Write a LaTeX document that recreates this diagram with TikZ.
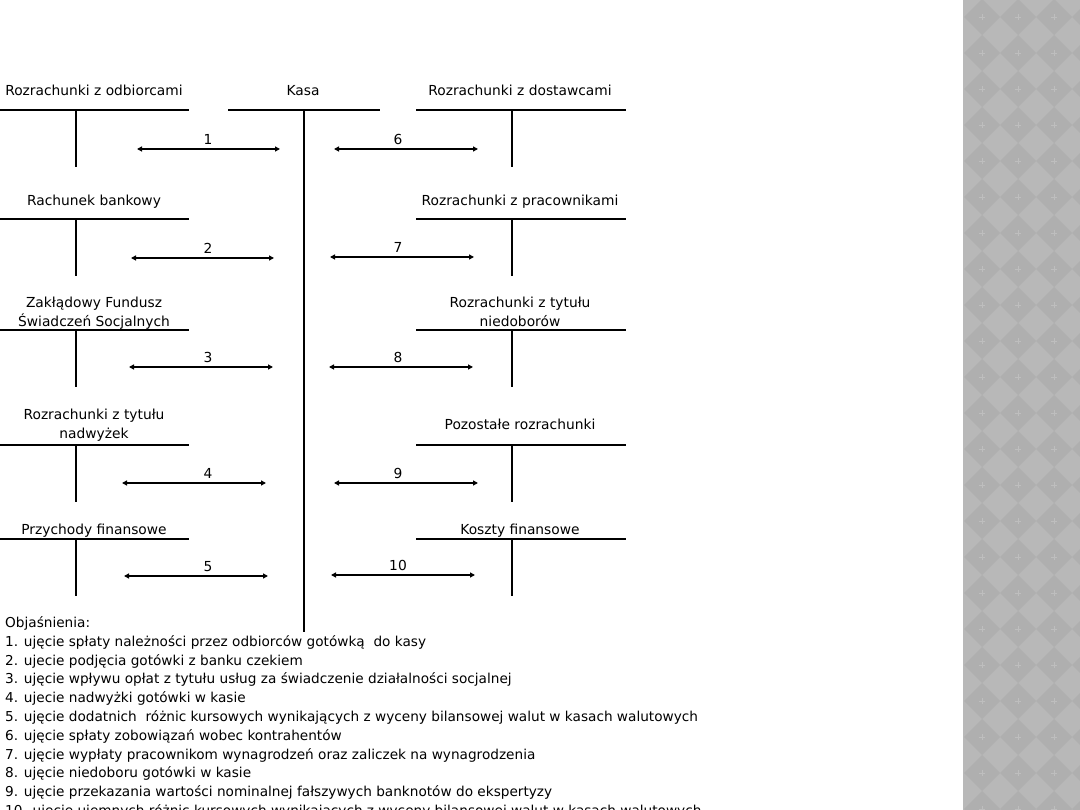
\documentclass[tikz,border=0pt]{standalone}
\usepackage{fontspec}
\setmainfont{DejaVu Sans}
\usetikzlibrary{arrows.meta}
\definecolor{stripgray}{HTML}{B8B8B8}
\definecolor{diamgray}{HTML}{AFAFAF}
\definecolor{plusgray}{HTML}{BEBEBE}

\begin{document}
\begin{tikzpicture}[x=1pt,y=-1pt,
    tline/.style={line width=2pt},
    flow/.style={line width=1.2pt,{Triangle[length=5pt,width=5pt]}-{Triangle[length=5pt,width=5pt]}},
    title/.style={font=\fontsize{13.8}{19}\selectfont,align=center,inner sep=0pt},
    num/.style={font=\fontsize{13.8}{16}\selectfont,inner sep=0pt},
    note/.style={font=\fontsize{13.65}{16}\selectfont,anchor=base west,inner sep=0pt}]
    \useasboundingbox (0,0) rectangle (1080,810);
    % gray strip on the right
    \fill[stripgray] (963,0) rectangle (1080,810);
    \begin{scope}
        \clip (963,0) rectangle (1080,810);
        \foreach \i in {0,...,3} {
            \foreach \j in {0,...,22} {
                \fill[diamgray] (982+36*\i,-1+36*\j) -- ++(18,18) -- ++(-18,18) -- ++(-18,-18) -- cycle;
                \draw[plusgray, line width=0.6pt] (979+36*\i,17+36*\j) -- ++(6,0) (982+36*\i,14+36*\j) -- ++(0,6);
            }
        }
    \end{scope}
    % T accounts
    \foreach \y in {110,219,330,445,539} {
        \draw[tline] (0,\y) -- (189,\y) (76,\y) -- (76,\y+57);
        \draw[tline] (416,\y) -- (626,\y) (512,\y) -- (512,\y+57);
    }
    \draw[tline] (228,110) -- (380,110) (304,110) -- (304,632);
    \node[title] (kasa) at (303,91) {Kasa};
    \foreach \n/\x/\y/\t in {odb/94/90.5/Rozrachunki z odbiorcami,
                             bank/94/202/Rachunek bankowy,
                             zfss/94/313.5/Zakłądowy Fundusz\\Świadczeń Socjalnych,
                             nadw/94/425.5/Rozrachunki z tytułu\\nadwyżek,
                             przych/94/531/Przychody finansowe,
                             dost/520/90.5/Rozrachunki z dostawcami,
                             prac/520/202/Rozrachunki z pracownikami,
                             nied/520/311.5/Rozrachunki z tytułu\\niedoborów,
                             poz/520/424.5/Pozostałe rozrachunki,
                             koszt/520/531/Koszty finansowe} {
        \node[title] (\n) at (\x,\y) {\t};
    }
    % arrows with numbers
    \foreach \n/\xa/\xb/\y/\xl in {1/137/280/149/208, 2/131/274/258/208, 3/129/273/367/208,
                                   4/122/266/483/208, 5/124/268/576/208, 6/334/478/149/398,
                                   7/330/474/257/398, 8/329/473/367/398, 9/334/478/483/398,
                                   10/331/475/575/398} {
        \coordinate (p\n) at (\xa,\y);
        \coordinate (q\n) at (\xb,\y);
        \draw[flow] (p\n) -- (q\n);
        \node[num] (n\n) at (\xl,\y-9.5) {\n};
    }
    % explanations
    \node[note] (obj) at (5,627.5) {Objaśnienia:};
    \foreach \k/\t in {1/{1. ujęcie spłaty należności przez odbiorców gotówką\ \ do kasy},
                       2/{2. ujecie podjęcia gotówki z banku czekiem},
                       3/{3. ujęcie wpływu opłat z tytułu usług za świadczenie działalności socjalnej},
                       4/{4. ujecie nadwyżki gotówki w kasie},
                       5/{5. ujęcie dodatnich\ \ różnic kursowych wynikających z wyceny bilansowej walut w kasach walutowych},
                       6/{6. ujęcie spłaty zobowiązań wobec kontrahentów},
                       7/{7. ujęcie wypłaty pracownikom wynagrodzeń oraz zaliczek na wynagrodzenia},
                       8/{8. ujęcie niedoboru gotówki w kasie},
                       9/{9. ujęcie przekazania wartości nominalnej fałszywych banknotów do ekspertyzy},
                       10/{10. ujęcie ujemnych różnic kursowych wynikających z wyceny bilansowej walut w kasach walutowych}} {
        \node[note] (e\k) at (5,627.5+18.8*\k) {\t};
    }
\end{tikzpicture}
\end{document}
